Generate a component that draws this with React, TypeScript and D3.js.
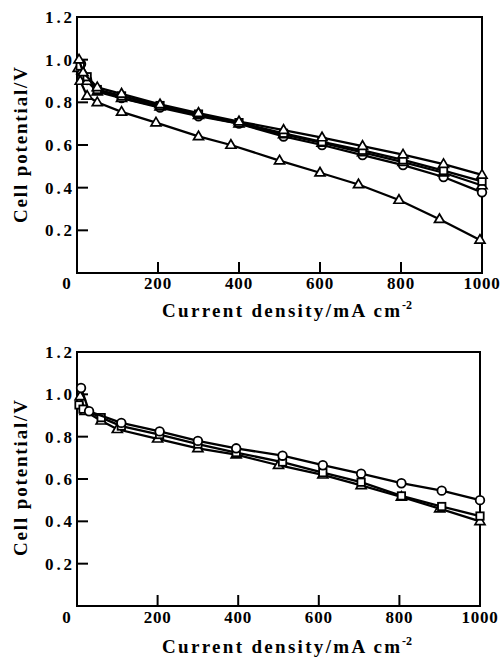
import React from "react";
import * as d3 from "d3";

// ---- Data ----
const xTicks = [200, 400, 600, 800];
const xTickLabels = ["0", "200", "400", "600", "800", "1000"];
const yTicks = [0.2, 0.4, 0.6, 0.8, 1.0];
const yTickLabels = ["0.2", "0.4", "0.6", "0.8", "1.0", "1.2"];

// Top panel
const topTriUpX = [5, 15, 50, 110, 205, 300, 400, 510, 605, 705, 805, 905, 1000];
const topTriUpY = [1.0, 0.94, 0.87, 0.84, 0.79, 0.75, 0.71, 0.67, 0.635, 0.595, 0.555, 0.51, 0.46];
const topSquareX = [8, 25, 50, 110, 205, 300, 400, 510, 605, 705, 805, 905, 1000];
const topSquareY = [0.97, 0.92, 0.86, 0.83, 0.785, 0.745, 0.705, 0.655, 0.615, 0.575, 0.53, 0.48, 0.43];
const topMidX = [12, 25, 50, 110, 205, 300, 400, 510, 605, 705, 805, 905, 1000];
const topMidY = [0.95, 0.9, 0.85, 0.82, 0.78, 0.74, 0.7, 0.65, 0.61, 0.565, 0.52, 0.47, 0.41];
const topCircleX = [10, 25, 50, 110, 205, 300, 400, 510, 605, 705, 805, 905, 1000];
const topCircleY = [0.98, 0.905, 0.86, 0.82, 0.775, 0.735, 0.7, 0.64, 0.6, 0.553, 0.506, 0.45, 0.378];
const topTriLowX = [3, 8, 25, 50, 110, 195, 300, 380, 500, 600, 695, 795, 895, 995];
const topTriLowY = [0.96, 0.9, 0.83, 0.8, 0.755, 0.705, 0.64, 0.6, 0.527, 0.47, 0.415, 0.342, 0.252, 0.155];

// Bottom panel
const botCircleX = [10, 30, 110, 205, 300, 395, 510, 610, 705, 805, 905, 1000];
const botCircleY = [1.03, 0.92, 0.865, 0.825, 0.78, 0.745, 0.71, 0.665, 0.625, 0.58, 0.545, 0.5];
const botSquareX = [5, 15, 60, 110, 205, 300, 395, 510, 610, 705, 805, 905, 1000];
const botSquareY = [0.95, 0.93, 0.89, 0.85, 0.81, 0.765, 0.725, 0.68, 0.63, 0.585, 0.52, 0.47, 0.425];
const botTriX = [8, 20, 60, 100, 200, 300, 395, 500, 610, 705, 805, 900, 1000];
const botTriY = [0.99, 0.92, 0.875, 0.835, 0.79, 0.745, 0.715, 0.665, 0.62, 0.57, 0.515, 0.46, 0.4];

type Series = { xs: number[]; ys: number[]; marker: "tri" | "circle" | "square" };

const topSeries: Series[] = [
  { xs: topTriLowX, ys: topTriLowY, marker: "tri" },
  { xs: topCircleX, ys: topCircleY, marker: "circle" },
  { xs: topMidX, ys: topMidY, marker: "tri" },
  { xs: topSquareX, ys: topSquareY, marker: "square" },
  { xs: topTriUpX, ys: topTriUpY, marker: "tri" },
];
const botSeries: Series[] = [
  { xs: botTriX, ys: botTriY, marker: "tri" },
  { xs: botSquareX, ys: botSquareY, marker: "square" },
  { xs: botCircleX, ys: botCircleY, marker: "circle" },
];

const FONT = "'Liberation Serif', 'DejaVu Serif', serif";

function Marker({ kind, x, y }: { kind: string; x: number; y: number }) {
  if (kind === "circle")
    return <circle cx={x} cy={y} r={4.3} fill="white" stroke="black" strokeWidth={1.8} />;
  if (kind === "square")
    return <rect x={x - 3.7} y={y - 3.7} width={7.4} height={7.4} fill="white" stroke="black" strokeWidth={1.8} />;
  const h = 8.5, w = 5;
  return (
    <path
      d={`M${x},${y - h * 0.62}L${x + w},${y + h * 0.38}L${x - w},${y + h * 0.38}Z`}
      fill="white"
      stroke="black"
      strokeWidth={1.7}
      strokeLinejoin="miter"
    />
  );
}

function Panel({
  series, x0, x1, yTop, yBot, tickBase, titleBase, yTitleCenter,
}: {
  series: Series[]; x0: number; x1: number; yTop: number; yBot: number;
  tickBase: number; titleBase: number; yTitleCenter: number;
}) {
  const x = d3.scaleLinear().domain([0, 1000]).range([x0, x1]);
  const y = d3.scaleLinear().domain([0, 1.2]).range([yBot, yTop]);
  const line = d3.line<[number, number]>().x((d) => x(d[0])).y((d) => y(d[1]));
  const xTickVals = [0, ...xTicks, 1000];
  const yLabelVals = [...yTicks, 1.2];
  return (
    <g>
      <rect x={x0} y={yTop} width={x1 - x0} height={yBot - yTop} fill="none" stroke="black" strokeWidth={2} />
      {yTicks.map((t) => (
        <line key={"yt" + t} x1={x0} x2={x0 + 11} y1={y(t)} y2={y(t)} stroke="black" strokeWidth={2} />
      ))}
      {xTicks.map((t) => (
        <line key={"xt" + t} x1={x(t)} x2={x(t)} y1={yBot} y2={yBot - 11} stroke="black" strokeWidth={2} />
      ))}
      {yLabelVals.map((t, i) => (
        <text key={"yl" + t} x={x0 - 5} y={y(t)} dy="0.36em" textAnchor="end" fontFamily={FONT}
          fontWeight="bold" fontSize={17} textLength={27} lengthAdjust="spacing">
          {yTickLabels[i]}
        </text>
      ))}
      {xTickVals.map((t, i) => (
        <text key={"xl" + t} x={t === 0 ? x(0) - 10 : x(t)} y={tickBase} textAnchor="middle" fontFamily={FONT}
          fontWeight="bold" fontSize={17} letterSpacing={0.8}>
          {xTickLabels[i]}
        </text>
      ))}
      <text x={162} y={titleBase} fontFamily={FONT} fontWeight="bold" fontSize={19}
        textLength={238} lengthAdjust="spacing">
        Current density/mA cm
      </text>
      <text x={402} y={titleBase - 8} fontFamily={FONT} fontWeight="bold" fontSize={12}>-2</text>
      <text transform={`translate(27,${yTitleCenter}) rotate(-90)`} textAnchor="middle" fontFamily={FONT}
        fontWeight="bold" fontSize={19} textLength={156} lengthAdjust="spacing">
        Cell potential/V
      </text>
      {series.map((s, si) => {
        const pts = s.xs.map((v, i) => [v, s.ys[i]] as [number, number]);
        return (
          <g key={"s" + si}>
            <path d={line(pts) || ""} fill="none" stroke="black" strokeWidth={2.3} />
            {pts.map((p, i) => (
              <Marker key={i} kind={s.marker} x={x(p[0])} y={y(p[1])} />
            ))}
          </g>
        );
      })}
    </g>
  );
}

export default function App() {
  return (
    <svg width={504} height={657} style={{ position: "absolute", left: 0, top: 0, background: "white" }}>
      <rect width={504} height={657} fill="white" />
      <Panel series={topSeries} x0={77} x1={482} yTop={17} yBot={273} tickBase={289} titleBase={317} yTitleCenter={145} />
      <Panel series={botSeries} x0={77} x1={480} yTop={352} yBot={606} tickBase={623} titleBase={653} yTitleCenter={478} />
    </svg>
  );
}
